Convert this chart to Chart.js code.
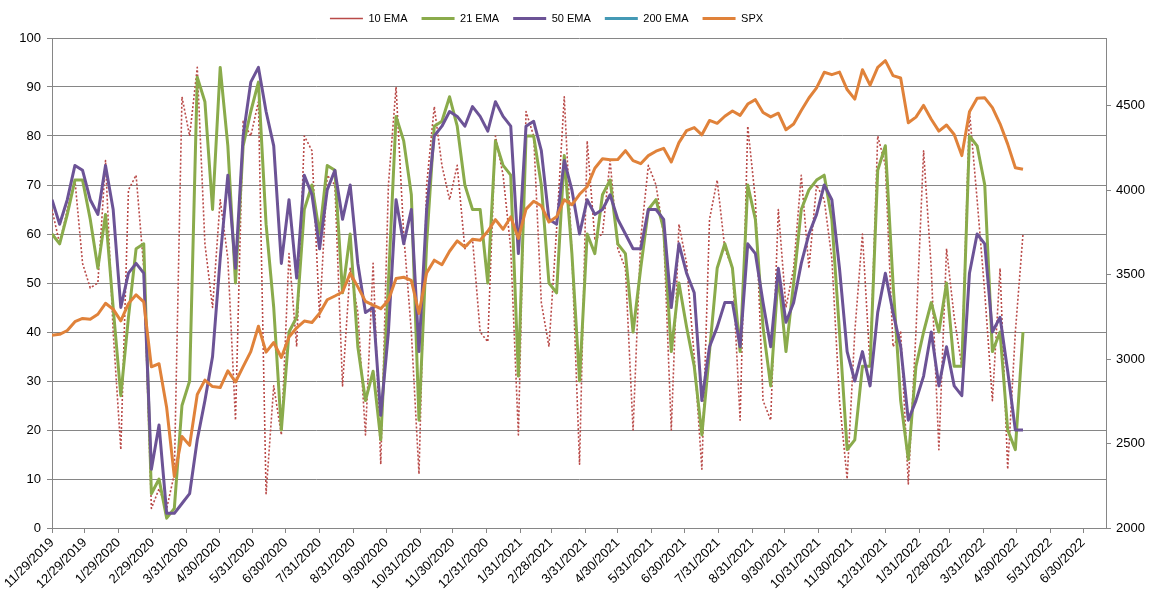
<!DOCTYPE html>
<html>
<head>
<meta charset="utf-8">
<script src="https://cdn.jsdelivr.net/npm/chart.js@4.4.1/dist/chart.umd.min.js"></script>
<style>
  html, body { margin: 0; padding: 0; background: #fff; }
  #wrap { position: relative; width: 1149px; height: 606px; }
</style>
</head>
<body>
<div id="wrap"><canvas id="chart" width="1149" height="606"></canvas></div>
<script>
// Weekly readings (Fridays) taken off the original chart
const weekDates = [
  '11/29/2019', '12/6/2019', '12/13/2019', '12/20/2019', '12/27/2019',
  '1/3/2020', '1/10/2020', '1/17/2020', '1/24/2020', '1/31/2020',
  '2/7/2020', '2/14/2020', '2/21/2020', '2/28/2020', '3/6/2020',
  '3/13/2020', '3/20/2020', '3/27/2020', '4/3/2020', '4/10/2020',
  '4/17/2020', '4/24/2020', '5/1/2020', '5/8/2020', '5/15/2020',
  '5/22/2020', '5/29/2020', '6/5/2020', '6/12/2020', '6/19/2020',
  '6/26/2020', '7/3/2020', '7/10/2020', '7/17/2020', '7/24/2020',
  '7/31/2020', '8/7/2020', '8/14/2020', '8/21/2020', '8/28/2020',
  '9/4/2020', '9/11/2020', '9/18/2020', '9/25/2020', '10/2/2020',
  '10/9/2020', '10/16/2020', '10/23/2020', '10/30/2020', '11/6/2020',
  '11/13/2020', '11/20/2020', '11/27/2020', '12/4/2020', '12/11/2020',
  '12/18/2020', '12/25/2020', '1/1/2021', '1/8/2021', '1/15/2021',
  '1/22/2021', '1/29/2021', '2/5/2021', '2/12/2021', '2/19/2021',
  '2/26/2021', '3/5/2021', '3/12/2021', '3/19/2021', '3/26/2021',
  '4/2/2021', '4/9/2021', '4/16/2021', '4/23/2021', '4/30/2021',
  '5/7/2021', '5/14/2021', '5/21/2021', '5/28/2021', '6/4/2021',
  '6/11/2021', '6/18/2021', '6/25/2021', '7/2/2021', '7/9/2021',
  '7/16/2021', '7/23/2021', '7/30/2021', '8/6/2021', '8/13/2021',
  '8/20/2021', '8/27/2021', '9/3/2021', '9/10/2021', '9/17/2021',
  '9/24/2021', '10/1/2021', '10/8/2021', '10/15/2021', '10/22/2021',
  '10/29/2021', '11/5/2021', '11/12/2021', '11/19/2021', '11/26/2021',
  '12/3/2021', '12/10/2021', '12/17/2021', '12/24/2021', '12/31/2021',
  '1/7/2022', '1/14/2022', '1/21/2022', '1/28/2022', '2/4/2022',
  '2/11/2022', '2/18/2022', '2/25/2022', '3/4/2022', '3/11/2022',
  '3/18/2022', '3/25/2022', '4/1/2022', '4/8/2022', '4/15/2022',
  '4/22/2022', '4/29/2022', '5/6/2022'
];

const ema10 = [
  65, 58, 65, 71, 54, 49, 50, 75, 40, 16,
  69, 72, 53, 4, 8, 4, 11, 88, 80, 94,
  58, 45, 67, 55, 22, 83, 80, 87, 7, 29,
  19, 56, 37, 80, 77, 43, 72, 70, 29, 53,
  44, 19, 54, 13, 70, 90, 60, 40, 11, 70,
  86, 74, 67, 74, 57, 59, 40, 38, 80, 72,
  57, 19, 85, 80, 46, 37, 61, 88, 56, 13,
  79, 59, 60, 75, 57, 53, 20, 59, 74, 70,
  60, 20, 62, 54, 35, 12, 63, 71, 57, 53,
  22, 82, 67, 26, 22, 65, 45, 53, 72, 53,
  70, 67, 55, 26, 10, 40, 60, 33, 80, 74,
  37, 40, 9, 40, 77, 53, 16, 57, 43, 33,
  85, 67, 48, 26, 53, 12, 40, 60
];

const ema21 = [
  60, 58, 64, 71, 71, 63, 53, 64, 45, 27,
  43, 57, 58, 7, 10, 2, 4, 25, 30, 92,
  87, 65, 94, 78, 50, 78, 85, 91, 62, 45,
  20, 40, 43, 65, 70, 60, 74, 73, 48, 60,
  37, 26, 32, 18, 50, 84, 79, 68, 22, 58,
  82, 83, 88, 82, 70, 65, 65, 50, 79, 74,
  72, 31, 80, 80, 70, 50, 48, 76, 56, 30,
  60, 56, 68, 71, 58, 56, 40, 53, 65, 67,
  61, 36, 50, 41, 33, 19, 36, 53, 58, 53,
  36, 70, 63, 41, 29, 52, 36, 50, 65, 69,
  71, 72, 63, 40, 16, 18, 33, 33, 73, 78,
  50, 26, 14, 33, 40, 46, 40, 50, 33, 33,
  80, 78, 70, 36, 40, 20, 16, 40
];

const ema50 = [
  67, 62, 67, 74, 73, 67, 64, 74, 65, 45,
  52, 54, 52, 12, 21, 3, 3, 5, 7, 18,
  26, 35, 55, 72, 53, 80, 91, 94, 85, 78,
  54, 67, 51, 72, 68, 57, 69, 73, 63, 70,
  54, 44, 45, 23, 40, 67, 58, 65, 36, 65,
  80, 82, 85, 84, 82, 86, 84, 81, 87, 84,
  82, 56, 82, 83, 77, 63, 62, 75, 69, 60,
  67, 64, 65, 68, 63, 60, 57, 57, 65, 65,
  63, 45, 58, 52, 48, 26, 37, 41, 46, 46,
  37, 58, 56, 46, 37, 53, 42, 46, 54, 60,
  64, 70, 67, 53, 36, 30, 36, 29, 44, 52,
  44, 37, 22, 26, 31, 40, 29, 37, 29, 27,
  52, 60, 58, 40, 43, 32, 20, 20
];

const ema200 = []; // in the legend only, no line drawn

const spx = [
  3141, 3146, 3169, 3221, 3240, 3235, 3265, 3330, 3295, 3226,
  3328, 3380, 3338, 2954, 2972, 2711, 2305, 2541, 2489, 2790,
  2875, 2837, 2831, 2930, 2864, 2955, 3044, 3194, 3041, 3098,
  3009, 3130, 3185, 3225, 3216, 3271, 3351, 3373, 3397, 3508,
  3427, 3341, 3319, 3298, 3348, 3477, 3484, 3465, 3270, 3510,
  3585, 3558, 3638, 3699, 3663, 3709, 3703, 3756, 3825, 3768,
  3841, 3714, 3887, 3934, 3907, 3811, 3842, 3943, 3913, 3975,
  4020, 4129, 4185, 4180, 4181, 4233, 4174, 4156, 4204, 4230,
  4247, 4166, 4281, 4352, 4370, 4327, 4412, 4395, 4437, 4468,
  4442, 4509, 4535, 4459, 4433, 4455, 4357, 4391, 4471, 4545,
  4605, 4697, 4683, 4698, 4595, 4538, 4712, 4621, 4726, 4766,
  4677, 4663, 4398, 4432, 4501, 4419, 4349, 4385, 4329, 4204,
  4463, 4543, 4546, 4488, 4392, 4272, 4132, 4123
];

const xTickLabels = [
  '11/29/2019', '12/29/2019', '1/29/2020', '2/29/2020', '3/31/2020', '4/30/2020',
  '5/31/2020', '6/30/2020', '7/31/2020', '8/31/2020', '9/30/2020', '10/31/2020',
  '11/30/2020', '12/31/2020', '1/31/2021', '2/28/2021', '3/31/2021', '4/30/2021',
  '5/31/2021', '6/30/2021', '7/31/2021', '8/31/2021', '9/30/2021', '10/31/2021',
  '11/30/2021', '12/31/2021', '1/31/2022', '2/28/2022', '3/31/2022', '4/30/2022',
  '5/31/2022', '6/30/2022'
];
const spxTicks = [2000, 2500, 3000, 3500, 4000, 4500];

// days since the first date, so the x axis behaves like a date axis
function dayNum(s) {
  const [m, d, y] = s.split('/').map(Number);
  return Math.round((Date.UTC(y, m - 1, d) - Date.UTC(2019, 10, 29)) / 86400000);
}

const labelByDay = {};
xTickLabels.forEach(s => { labelByDay[dayNum(s)] = s; });

function toPoints(values) {
  return values.map((v, i) => ({ x: dayNum(weekDates[i]), y: v }));
}

const axisColor = '#868686';
const tickFont = { family: 'Liberation Sans, Arial, sans-serif', size: 13 };

// nudge the legend to where it sits in the original
const legendShift = {
  id: 'legendShift',
  afterLayout(chart) {
    const lg = chart.legend;
    if (!lg) return;
    lg.left -= 28; lg.right -= 28;
    lg.top -= 4; lg.bottom -= 4;
  }
};

new Chart(document.getElementById('chart').getContext('2d'), {
  type: 'line',
  data: {
    datasets: [
      {
        label: '10 EMA',
        data: toPoints(ema10),
        yAxisID: 'y',
        borderColor: '#B94A48',
        borderWidth: 1.6,
        borderDash: [2, 2],
        pointRadius: 0,
        order: 4
      },
      {
        label: '21 EMA',
        data: toPoints(ema21),
        yAxisID: 'y',
        borderColor: '#8AAB4B',
        borderWidth: 3,
        pointRadius: 0,
        order: 3
      },
      {
        label: '50 EMA',
        data: toPoints(ema50),
        yAxisID: 'y',
        borderColor: '#6C5396',
        borderWidth: 3,
        pointRadius: 0,
        order: 2
      },
      {
        label: '200 EMA',
        data: ema200,
        yAxisID: 'y',
        borderColor: '#4499B5',
        borderWidth: 3,
        pointRadius: 0,
        order: 1
      },
      {
        label: 'SPX',
        data: toPoints(spx),
        yAxisID: 'y1',
        borderColor: '#E0823A',
        borderWidth: 3,
        pointRadius: 0,
        order: 0
      }
    ]
  },
  options: {
    responsive: false,
    animation: false,
    layout: { padding: { top: 3, left: 0, right: 0, bottom: 0 } },
    elements: { line: { tension: 0, borderJoinStyle: 'round' } },
    plugins: {
      tooltip: { enabled: false },
      legend: {
        position: 'top',
        labels: {
          usePointStyle: true,
          pointStyle: 'line',
          pointStyleWidth: 33,
          padding: 14,
          color: '#000',
          font: { family: 'Liberation Sans, Arial, sans-serif', size: 11 },
          sort: (a, b) => a.datasetIndex - b.datasetIndex
        }
      }
    },
    scales: {
      x: {
        type: 'linear',
        min: 0,
        max: 965,
        afterBuildTicks: (scale) => {
          scale.ticks = xTickLabels.map(s => ({ value: dayNum(s) }));
        },
        afterFit: (scale) => { scale.height = 78; },
        ticks: {
          autoSkip: false,
          minRotation: 45,
          maxRotation: 45,
          padding: 2,
          color: '#000',
          font: tickFont,
          callback: (v) => labelByDay[v] || ''
        },
        grid: { drawOnChartArea: false, drawTicks: true, tickLength: 5, color: axisColor },
        border: { display: true, color: axisColor }
      },
      y: {
        position: 'left',
        min: 0,
        max: 100,
        afterFit: (scale) => { scale.width = 52; },
        ticks: { stepSize: 10, padding: 6, color: '#000', font: tickFont },
        grid: { color: axisColor, tickLength: 5 },
        border: { display: true, color: axisColor }
      },
      y1: {
        position: 'right',
        min: 2000,
        max: 4900,
        afterBuildTicks: (scale) => {
          scale.ticks = spxTicks.map(v => ({ value: v }));
        },
        afterFit: (scale) => { scale.width = 43; },
        ticks: { padding: 5, color: '#000', font: tickFont, callback: (v) => String(v) },
        grid: { drawOnChartArea: false, tickLength: 5, color: axisColor },
        border: { display: true, color: axisColor }
      }
    }
  },
  plugins: [legendShift]
});
</script>
</body>
</html>
